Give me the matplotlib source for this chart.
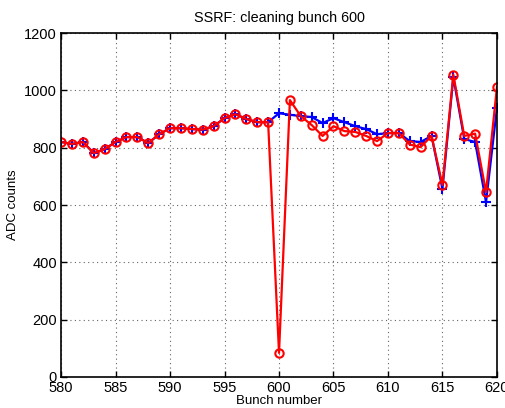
import numpy as np
import matplotlib
matplotlib.use("Agg")
import matplotlib.pyplot as plt

# --- data ---
bunch = list(range(580, 621))

# before cleaning (blue +)
adc_before = [820, 813, 820, 781, 795, 820, 837, 837, 816, 847,
              868, 868, 865, 863, 875, 903, 917, 900, 889, 889,
              920, 915, 910, 907, 886, 903, 889, 875, 865, 847,
              851, 851, 823, 820, 841, 656, 1046, 830, 820, 610,
              938]

# after cleaning (red o)
adc_after = [820, 813, 820, 781, 795, 820, 837, 837, 816, 847,
             868, 868, 865, 863, 875, 903, 917, 900, 889, 889,
             84, 966, 910, 879, 841, 875, 858, 855, 841, 823,
             851, 851, 811, 802, 841, 670, 1055, 841, 849, 645,
             1011]

plt.rcParams['font.family'] = ['Liberation Sans', 'DejaVu Sans']
plt.rcParams['font.size'] = 9.5

fig = plt.figure(figsize=(5.05, 4.08), dpi=100)
ax = fig.add_axes([0.121, 0.076, 0.863, 0.843])

ax.plot(bunch, adc_before, color='blue', marker='+', markersize=7,
        markeredgewidth=1.5, linewidth=1.6)
ax.plot(bunch, adc_after, color='red', marker='o', markersize=6,
        markerfacecolor='none', markeredgewidth=1.5, linewidth=1.6)

ax.set_xlim(580, 620)
ax.set_ylim(0, 1200)
ax.set_xticks(range(580, 621, 5))
ax.set_yticks(range(0, 1201, 200))
ax.tick_params(direction='in', top=True, right=True, length=4, width=1,
               labelsize=10.5, pad=3)
ax.grid(True, linestyle=(0, (1, 3)), color='#666666', linewidth=0.8)
for s in ax.spines.values():
    s.set_linewidth(1.2)

ax.set_xlabel('Bunch number', labelpad=0)
ax.set_ylabel('ADC counts')
ax.set_title('SSRF: cleaning bunch 600', fontsize=10.4, pad=8)

fig.savefig('out.png', dpi=100)
